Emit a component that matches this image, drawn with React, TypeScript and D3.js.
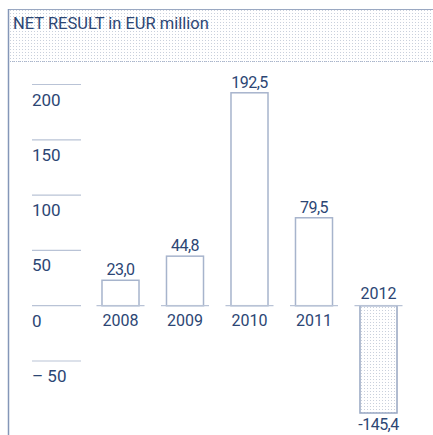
import { useEffect, useRef } from 'react';
import * as d3 from 'd3';

// Net result, EUR million
const years = ['2008', '2009', '2010', '2011', '2012'];
const values = [23.0, 44.8, 192.5, 79.5, -145.4];
const yTicks = [200, 150, 100, 50, 0, -50];

const navy = '#2c4674';
const lineColor = '#b9c3d6';
const barStroke = '#a7b4cc';

export default function App() {
  const svgRef = useRef<SVGSVGElement>(null);

  useEffect(() => {
    if (!svgRef.current) return;
    const svg = d3.select(svgRef.current);
    svg.selectAll('*').remove();

    const width = 433;
    const height = 435;
    const font = 'Roboto, sans-serif';

    // dotted fill
    const defs = svg.append('defs');
    const pat = defs.append('pattern')
      .attr('id', 'dots')
      .attr('width', 3)
      .attr('height', 3)
      .attr('patternUnits', 'userSpaceOnUse');
    pat.append('rect').attr('width', 3).attr('height', 3).attr('fill', '#ffffff');
    pat.append('rect').attr('x', 1).attr('y', 1).attr('width', 1).attr('height', 1).attr('fill', '#c9d0dc');

    // header box
    svg.append('rect')
      .attr('x', 8).attr('y', 9)
      .attr('width', width - 8).attr('height', 53)
      .attr('fill', 'url(#dots)');
    svg.append('line')
      .attr('x1', 8).attr('x2', width).attr('y1', 9.5).attr('y2', 9.5)
      .attr('stroke', '#9aa8c2').attr('stroke-width', 1);
    svg.append('line')
      .attr('x1', 8).attr('x2', width).attr('y1', 61.5).attr('y2', 61.5)
      .attr('stroke', '#a9b5cc').attr('stroke-width', 1)
      .attr('stroke-dasharray', '1,1');
    svg.append('line')
      .attr('x1', 8.5).attr('x2', 8.5).attr('y1', 9).attr('y2', height)
      .attr('stroke', '#8496b8').attr('stroke-width', 1.5);

    svg.append('text')
      .attr('x', 13).attr('y', 29)
      .attr('fill', navy)
      .style('font-family', font)
      .style('font-size', '16.5px')
      .text('NET RESULT in EUR million');

    // scales
    const y = d3.scaleLinear().domain([-97, 200]).range([413, 84.5]).clamp(true);
    const x = d3.scaleBand<string>()
      .domain(years)
      .range([88.25, 410.75])
      .paddingInner(0.426)
      .paddingOuter(0.213);

    // y ticks
    const tick = svg.append('g');
    yTicks.forEach((t) => {
      tick.append('line')
        .attr('x1', 32).attr('x2', 81)
        .attr('y1', y(t)).attr('y2', y(t))
        .attr('stroke', lineColor).attr('stroke-width', 1.2);
      tick.append('text')
        .attr('x', 32).attr('y', y(t) + 21)
        .attr('fill', navy)
        .style('font-family', font)
        .style('font-size', '17px')
        .text(t < 0 ? `– ${Math.abs(t)}` : `${t}`);
    });

    const fmt = (v: number) => (v < 0 ? '-' : '') + Math.abs(v).toFixed(1).replace('.', ',');

    const g = svg.append('g');
    years.forEach((yr, i) => {
      const v = values[i];
      const x0 = x(yr)!;
      const bw = x.bandwidth();
      const top = Math.min(y(v), y(0));
      const h = Math.abs(y(v) - y(0));
      g.append('rect')
        .attr('x', x0).attr('y', top)
        .attr('width', bw).attr('height', h)
        .attr('fill', v < 0 ? 'url(#dots)' : '#ffffff')
        .attr('stroke', v < 0 ? '#97a6c2' : barStroke)
        .attr('stroke-width', 1.5);
      g.append('line')
        .attr('x1', x0 - 5.5).attr('x2', x0 + bw + 5.5)
        .attr('y1', y(0)).attr('y2', y(0))
        .attr('stroke', lineColor).attr('stroke-width', 1.2);
      const cx = x0 + bw / 2;
      g.append('text')
        .attr('x', cx)
        .attr('y', v < 0 ? y(v) + 17 : y(v) - 5)
        .attr('text-anchor', 'middle')
        .attr('fill', navy)
        .style('font-family', font)
        .style('font-size', '16px')
        .style('letter-spacing', '-0.5px')
        .text(fmt(v));
      g.append('text')
        .attr('x', cx)
        .attr('y', v < 0 ? y(0) - 7 : y(0) + 20)
        .attr('text-anchor', 'middle')
        .attr('fill', navy)
        .style('font-family', font)
        .style('font-size', '16px')
        .text(yr);
    });
  }, []);

  return (
    <svg
      ref={svgRef}
      width={433}
      height={435}
      style={{ position: 'absolute', left: 0, top: 0, background: '#ffffff' }}
    />
  );
}
